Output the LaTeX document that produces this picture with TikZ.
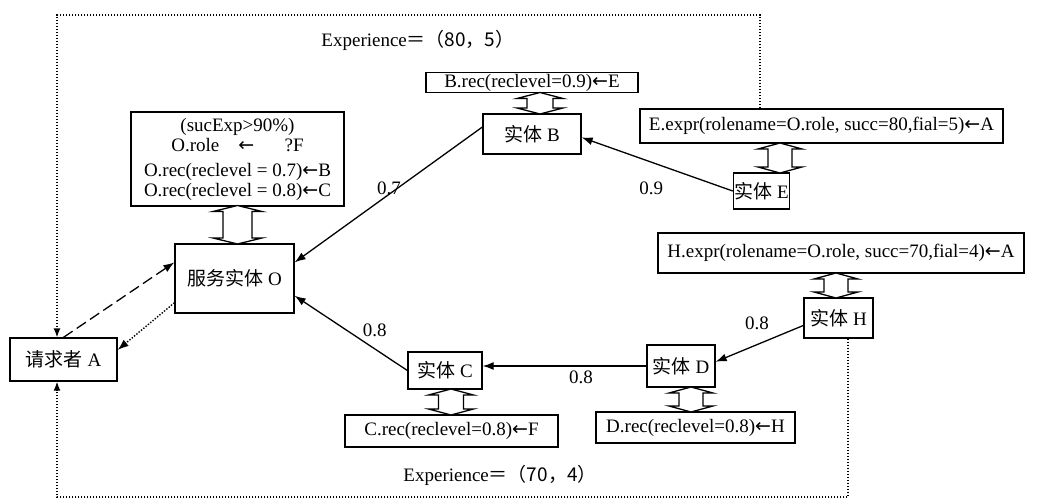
\documentclass[tikz,border=0pt]{standalone}
\usepackage{fontspec}
\setmainfont{Liberation Serif}
\newfontfamily\cjk{Noto Sans CJK SC}
\newfontfamily\arrfont{DejaVu Sans}
\usetikzlibrary{arrows.meta}

\newcommand{\arr}{{\arrfont ←}}
% hollow double arrow: x, top y, bottom y, half width of the shaft
\newcommand{\dblarr}[4]{%
  \filldraw[fill=white,line width=1.3pt] (#1,#2) -- (#1+#4+10,#2+6) -- (#1+#4,#2+6) -- (#1+#4,#3-6) -- (#1+#4+10,#3-6) -- (#1,#3)
    -- (#1-#4-10,#3-6) -- (#1-#4,#3-6) -- (#1-#4,#2+6) -- (#1-#4-10,#2+6) -- cycle;}

\tikzset{
  box/.style 2 args={draw,line width=1.3pt,inner sep=1pt,minimum width=#1,minimum height=#2},
  link/.style={line width=1.3pt,-{Latex[length=11pt,width=8pt]}},
  dots/.style={line width=1.4pt,dash pattern=on 1.4pt off 1.6pt},
  loop/.style={dots,-{Latex[length=9pt,width=7pt]}},
  every node/.style={font=\fontsize{19}{20}\selectfont}
}

\begin{document}
\begin{tikzpicture}[x=1pt,y=-1pt]
\useasboundingbox (0,0) rectangle (1057,500);

% nodes
\node[box={212}{20}] (brec) at (532,82.5) {B.rec(reclevel=0.9)\arr E};
\node[box={98}{40}] (B) at (532,134) {{\cjk 实体} B};
\node[box={363}{34}] (eexpr) at (821.5,126) {E.expr(rolename=O.role, succ=80,fial=5)\arr A};
\node[box={51}{36}] (E) at (761.5,191) {{\cjk 实体} E};
\node[box={213}{94},align=center] (obox) at (237.5,159)
  {(sucExp>90\%)\\[0pt] O.role\hspace{1em}\arr\hspace{1.6em}?F\hspace*{1em}\\[5pt] O.rec(reclevel = 0.7)\arr B\\[0pt] O.rec(reclevel = 0.8)\arr C};
\node[box={119}{69}] (O) at (234.5,278.5) {{\cjk 服务实体} O};
\node[box={107}{43}] (A) at (63.5,359.5) {{\cjk 请求者} A};
\node[box={74}{37}] (C) at (445,370.5) {{\cjk 实体} C};
\node[box={213}{32}] (crec) at (451.5,431) {C.rec(reclevel=0.8)\arr F};
\node[box={68}{42}] (D) at (681,366) {{\cjk 实体} D};
\node[box={199}{31}] (drec) at (695.5,427.5) {D.rec(reclevel=0.8)\arr H};
\node[box={69}{40}] (H) at (838.5,318) {{\cjk 实体} H};
\node[box={366}{40}] (hexpr) at (841,253) {H.expr(rolename=O.role, succ=70,fial=4)\arr A};
\node (exp1) at (418,40) {Experience{\cjk ＝（80，5）}};
\node (exp2) at (500,475) {Experience{\cjk ＝（70，4）}};

% hollow arrows between entity and its record
\dblarr{540}{92.5}{114}{13}
\dblarr{780}{143}{173}{12}
\dblarr{237.5}{205.5}{244}{14.5}
\dblarr{451}{389}{415}{12.5}
\dblarr{691}{387}{412}{12}
\dblarr{836}{273}{298}{12}

% recommendation links
\draw[link] (B.172) -- node[pos=0.45,xshift=-9pt] {0.7} (O.15);
\draw[link] (E.west) -- node[pos=0.54,yshift=-26pt] {0.9} (B.-4);
\draw[link] (C.west) -- node[pos=0.29,yshift=19pt] {0.8} (O.-16);
\draw[link] (D.west) -- node[pos=0.4,below=1pt] {0.8} (D.west -| C.east);
\draw[link] (H.192) -- node[pos=0.53,yshift=21pt] {0.8} (D.7);

% request and answer
\draw[line width=1.3pt,dash pattern=on 11pt off 5pt,-{Latex[length=11pt,width=8pt]}] (A.north) -- (O.165);
\draw[dots,-{Latex[length=11pt,width=8pt]}] (O.202) -- (A.10);

% experience loops
\coordinate (tr) at (760,15);
\coordinate (tl) at (57,15);
\coordinate (br) at (848,497);
\coordinate (bl) at (57,497);
\draw[loop] (eexpr.north -| tr) -- (tr) -- (tl) -- (tl |- A.north);
\draw[loop] (H.south -| br) -- (br) -- (bl) -- (bl |- A.south);
\end{tikzpicture}
\end{document}
